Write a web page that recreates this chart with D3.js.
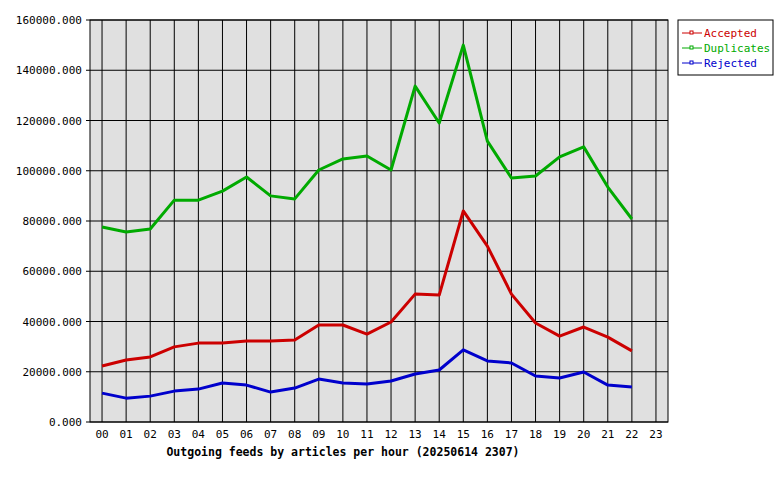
<!DOCTYPE html>
<html><head><meta charset="utf-8">
<script src="https://cdn.jsdelivr.net/npm/d3@7"></script>
<style>body{margin:0;background:#fff}text{font-family:"DejaVu Sans Mono",monospace}</style>
</head><body><svg width="780" height="480"></svg>
<script>
var hours = ["00","01","02","03","04","05","06","07","08","09","10","11","12","13","14","15","16","17","18","19","20","21","22","23"];
var accepted = [22300,24700,25900,29900,31400,31400,32200,32200,32600,38600,38600,35000,39800,50900,50500,84000,70000,50900,39400,34200,37800,33800,28300];
var duplicates = [77600,75600,76800,88300,88300,91900,97500,90000,88800,100300,104700,105900,100300,133700,119000,150000,111800,97100,97900,105500,109500,93500,80800];
var rejected = [11500,9500,10300,12300,13100,15500,14700,11900,13500,17100,15500,15100,16300,19100,20700,28700,24300,23500,18300,17500,19900,14700,13900];
var yTicks = [0,20000,40000,60000,80000,100000,120000,140000,160000];
var series = [
  {name:"Accepted", values:accepted, color:"#cc0000"},
  {name:"Duplicates", values:duplicates, color:"#00aa00"},
  {name:"Rejected", values:rejected, color:"#0000cc"}
];

var svg = d3.select("svg");
var L = 90, R = 668, T = 20, B = 422;
var x = d3.scalePoint().domain(hours).range([L, R]).padding(0.5);
var y = d3.scaleLinear().domain([0,160000]).range([B, T]);

svg.append("rect").attr("x",L).attr("y",T).attr("width",R-L).attr("height",B-T).attr("fill","#e0e0e0");

// grid
svg.selectAll(".vg").data(hours).enter().append("line")
  .attr("x1",d=>x(d)).attr("x2",d=>x(d)).attr("y1",T).attr("y2",B).attr("stroke","#000");
svg.selectAll(".hg").data(yTicks).enter().append("line")
  .attr("x1",L-4).attr("x2",R).attr("y1",d=>y(d)).attr("y2",d=>y(d)).attr("stroke","#000");
svg.append("rect").attr("x",L).attr("y",T).attr("width",R-L).attr("height",B-T).attr("fill","none").attr("stroke","#000");

svg.selectAll(".yl").data(yTicks).enter().append("text")
  .attr("x",L-8).attr("y",d=>y(d)+4).attr("text-anchor","end").attr("font-size",11)
  .text(d=>d3.format(".3f")(d));
svg.selectAll(".xl").data(hours).enter().append("text")
  .attr("x",d=>x(d)).attr("y",B+16).attr("text-anchor","middle").attr("font-size",11).text(d=>d);
svg.append("text").attr("x",343).attr("y",456).attr("text-anchor","middle")
  .attr("font-size",11.5).attr("font-weight","bold").text("Outgoing feeds by articles per hour (20250614 2307)");

var line = d3.line().x((d,i)=>x(hours[i])).y(d=>y(d));
series.forEach(function(s){
  svg.append("path").datum(s.values).attr("d",line).attr("fill","none")
    .attr("stroke",s.color).attr("stroke-width",3).attr("stroke-linejoin","round");
});

// legend
var lg = svg.append("g");
lg.append("rect").attr("x",678).attr("y",20).attr("width",95).attr("height",55).attr("fill","#fff").attr("stroke","#000");
series.forEach(function(s,i){
  var yy = 33 + i*15;
  lg.append("line").attr("x1",682).attr("x2",702).attr("y1",yy).attr("y2",yy).attr("stroke",s.color);
  lg.append("rect").attr("x",690).attr("y",yy-2).attr("width",3).attr("height",3).attr("fill","#fff").attr("stroke",s.color).attr("stroke-width",1);
  lg.append("text").attr("x",704).attr("y",yy+4).attr("font-size",11).attr("fill",s.color).text(s.name);
});
</script></body></html>
